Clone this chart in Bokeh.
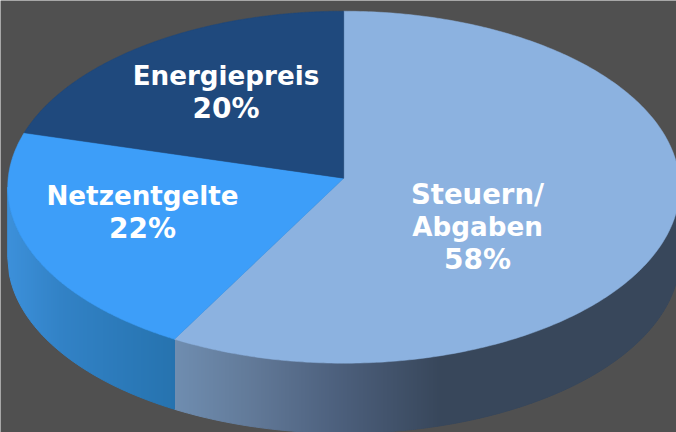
import numpy as np
from bokeh.plotting import figure
from bokeh.models import Range1d
from bokeh.core.properties import value
from bokeh.embed import file_html
from bokeh.resources import INLINE

categories = ["Steuern/\nAbgaben", "Netzentgelte", "Energiepreis"]
shares = [58.4, 21.6, 20.0]
top_colors = ["#8CB2E0", "#3D9EF9", "#1F497D"]
label_xy = [(477, 226.5), (142, 212), (225.5, 92)]

BG = "#505050"
CX, CY, A, B = 343.2, 186.7, 336, 176
APEX = (343.2, 177.7)
DEPTH = 70

wall_stops = {
    0: ([175, 250, 340, 440, 700],
        [(111, 141, 176), (98, 122, 153), (76, 95, 124), (56, 71, 91), (56, 71, 91)]),
    1: ([8, 60, 175],
        [(60, 144, 218), (50, 130, 198), (38, 115, 175)]),
}

p = figure(width=676, height=432, output_backend="svg", toolbar_location=None,
           x_range=Range1d(0, 676), y_range=Range1d(432, 0),
           min_border=0, outline_line_color=None, background_fill_color=BG,
           border_fill_color=BG, margin=0)
p.axis.visible = False
p.grid.visible = False

def pt(t):
    return CX + A * np.sin(t), CY - B * np.cos(t)

def to_hex(c):
    return "#%02x%02x%02x" % tuple(int(round(v)) for v in c)

fr = np.cumsum([0] + shares) / sum(shares) * 2 * np.pi

# side walls, one narrow vertical strip per step
xs_all, ys_all, cs_all = [], [], []
for i in (0, 1):
    lo = max(fr[i], np.pi / 2)
    hi = min(fr[i + 1], 3 * np.pi / 2)
    if hi <= lo:
        continue
    ts = np.linspace(lo, hi, 400)
    x, y = pt(ts)
    order = np.argsort(x)
    x, y = x[order], y[order]
    stops_x, stops_c = wall_stops[i]
    edges = np.arange(np.floor(x[0]), np.ceil(x[-1]) + 2, 2.0)
    edges = np.clip(edges, x[0], x[-1])
    edges = np.unique(edges)
    for a, b in zip(edges[:-1], edges[1:]):
        ya, yb = np.interp([a, b], x, y)
        mid = (a + b) / 2
        col = [np.interp(mid, stops_x, [c[k] for c in stops_c]) for k in range(3)]
        xs_all.append([a, b, b, a])
        ys_all.append([ya, yb, yb + DEPTH, ya + DEPTH])
        cs_all.append(to_hex(col))
p.patches(xs_all, ys_all, fill_color=cs_all, line_color=cs_all, line_width=1)

# top faces
for i in range(3):
    ts = np.linspace(fr[i], fr[i + 1], 300)
    x, y = pt(ts)
    p.patch(np.r_[APEX[0], x], np.r_[APEX[1], y], fill_color=top_colors[i], line_color=top_colors[i], line_width=0.5)

# labels: the percent line and the slash line run wider in the original face
for name, s, (lx, ly) in zip(categories, shares, label_xy):
    lines = name.split("\n") + [f"{round(s)}%"]
    n = len(lines)
    for j, line in enumerate(lines):
        size = "28px" if line.endswith("%") else ("27.5px" if line.endswith("/") else "26.2px")
        p.text([lx], [ly + (j - (n - 1) / 2) * 32.5 - 0.5], text=[line], text_color="white",
               text_font=value("DejaVu Sans"), text_font_style="bold", text_font_size=size,
               text_align="center", text_baseline="middle")

open("out.html", "w").write(file_html(p, INLINE))
